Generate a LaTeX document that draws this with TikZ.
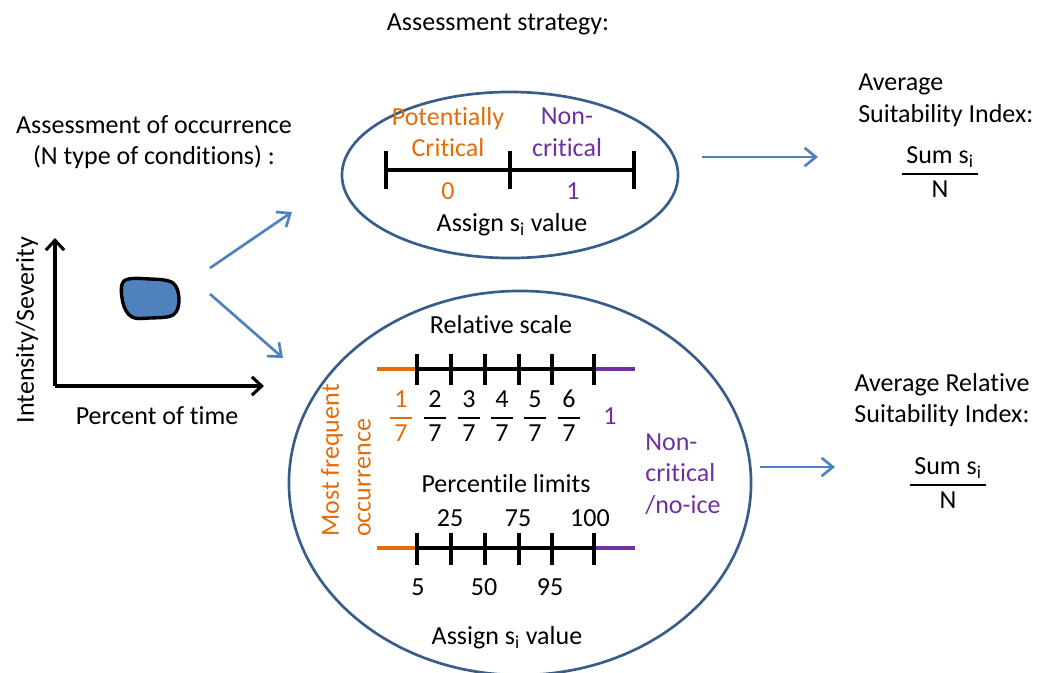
\documentclass[tikz,border=0pt]{standalone}
\usepackage{amsmath}
\usepackage{fontspec}
\setmainfont{Carlito}[Ligatures=NoCommon]
\usetikzlibrary{positioning,arrows.meta,shapes.geometric}
\definecolor{critorange}{HTML}{E46C0A}
\definecolor{noncrit}{HTML}{7030A0}
\definecolor{flowblue}{HTML}{4F81BD}
\definecolor{ringblue}{HTML}{385D8A}
\newcommand{\frx}[2]{$\displaystyle\genfrac{}{}{1.4pt}{0}{\hspace{3pt}\mbox{#1}\hspace{3pt}}{\mbox{#2}}$}
\newcommand{\sumfr}{$\displaystyle\genfrac{}{}{1.3pt}{0}{\,\mbox{Sum s\textsubscript{i}}\,}{\mbox{N}}$}
\begin{document}
\begin{tikzpicture}[x=0.025cm, y=-0.025cm,
    every node/.style={font=\fontsize{18.5}{22.5}\selectfont, inner sep=0pt, align=center},
    ring/.style={draw=ringblue, line width=1.9pt, ellipse},
    flow/.style={draw=flowblue, line width=1.9pt, -{Straight Barb[length=8pt, width=13pt]}},
    axis/.style={line width=2.2pt, -{Straight Barb[length=7pt, width=13pt]}},
    scl/.style={line width=2.3pt},
    tick/.style={line width=2.3pt}]
    \useasboundingbox (0,0) rectangle (1040,672);

    \node (title) at (498,24) {Assessment strategy:};

    % occurrence plot
    \node (occ) at (154,142) {Assessment of occurrence\\(N type of conditions) :};
    \coordinate (orig) at (55,386);
    \coordinate (ytop) at (55,238);
    \coordinate (xend) at (264,386);
    \draw[axis] (orig) -- (ytop);
    \draw[axis] (orig) -- (xend);
    \node[rotate=90] (ylab) at (27,330) {Intensity/Severity};
    \node (xlab) at (157,416) {Percent of time};
    \draw[fill=flowblue, line width=2.4pt] plot[smooth cycle, tension=0.6] coordinates
        {(124,281) (150,279) (173,283) (179,300) (173,315) (150,318) (132,317) (123,303)};

    % top ellipse
    \node[ring, minimum width=8.4cm, minimum height=4.15cm] (topell) at (510,175) {};
    \node[text=critorange] (pot) at (448,132) {Potentially\\Critical};
    \node[text=noncrit] (non) at (567,132) {Non-\\critical};
    \draw[scl] (386,170) -- (634,170);
    \foreach \x in {386,510,634} \draw[tick] (\x,151) -- (\x,189);
    \node[text=critorange] (zero) at (448,191) {0};
    \node[text=noncrit] (one) at (573,191) {1};
    \node (assign1) at (512,225) {Assign s\textsubscript{i} value};

    % bottom ellipse
    \node[ring, minimum width=11.55cm, minimum height=9.6cm] (botell) at (520,483) {};
    \node (rel) at (501,325) {Relative scale};
    \draw[scl, critorange] (377,369) -- (417,369);
    \draw[scl] (417,369) -- (594,369);
    \draw[scl, noncrit] (594,369) -- (635,369);
    \foreach \x in {417,451,485,519,552,594} \draw[tick] (\x,354) -- (\x,385);
    \node[text=critorange] (f1) at (401,416) {\frx{1}{7}};
    \foreach \n/\x in {2/435,3/469,4/502,5/535,6/569}
        \node (f\n) at (\x,416) {\frx{\n}{7}};
    \node[text=noncrit] (fone) at (610,416) {1};
    \node[rotate=90, text=critorange, align=left, anchor=south west] (most) at (371,537) {Most frequent\\occurrence};
    \node[text=noncrit, align=left, anchor=west] (nonice) at (645,474) {Non-\\critical\\/no-ice};

    \node (perc) at (506,484) {Percentile limits};
    \foreach \v/\x in {25/450,75/518,100/590} \node (p\v) at (\x,518) {\v};
    \draw[scl, critorange] (377,548) -- (417,548);
    \draw[scl] (417,548) -- (594,548);
    \draw[scl, noncrit] (594,548) -- (635,548);
    \foreach \x in {417,451,485,519,552,594} \draw[tick] (\x,533) -- (\x,565);
    \foreach \v/\x in {5/418,50/484,95/550} \node (p\v) at (\x,587) {\v};
    \node (assign2) at (507,638) {Assign s\textsubscript{i} value};

    % arrows
    \coordinate (a1s) at (210,268);
    \coordinate (a1e) at (292,212);
    \coordinate (a2s) at (210,294);
    \coordinate (a2e) at (283,358);
    \coordinate (a3s) at (702,157);
    \coordinate (a3e) at (818,157);
    \coordinate (a4s) at (760,467);
    \coordinate (a4e) at (835,467);
    \draw[flow] (a1s) -- (a1e);
    \draw[flow] (a2s) -- (a2e);
    \draw[flow] (a3s) -- (a3e);
    \draw[flow] (a4s) -- (a4e);

    % indices
    \node[align=left, anchor=west] (avg) at (858,100) {Average\\Suitability Index:};
    \node (avgfr) at (940,172) {\sumfr};
    \node (rav) at (942,400) {Average Relative\\Suitability Index:};
    \node (ravfr) at (948,483) {\sumfr};
\end{tikzpicture}
\end{document}
